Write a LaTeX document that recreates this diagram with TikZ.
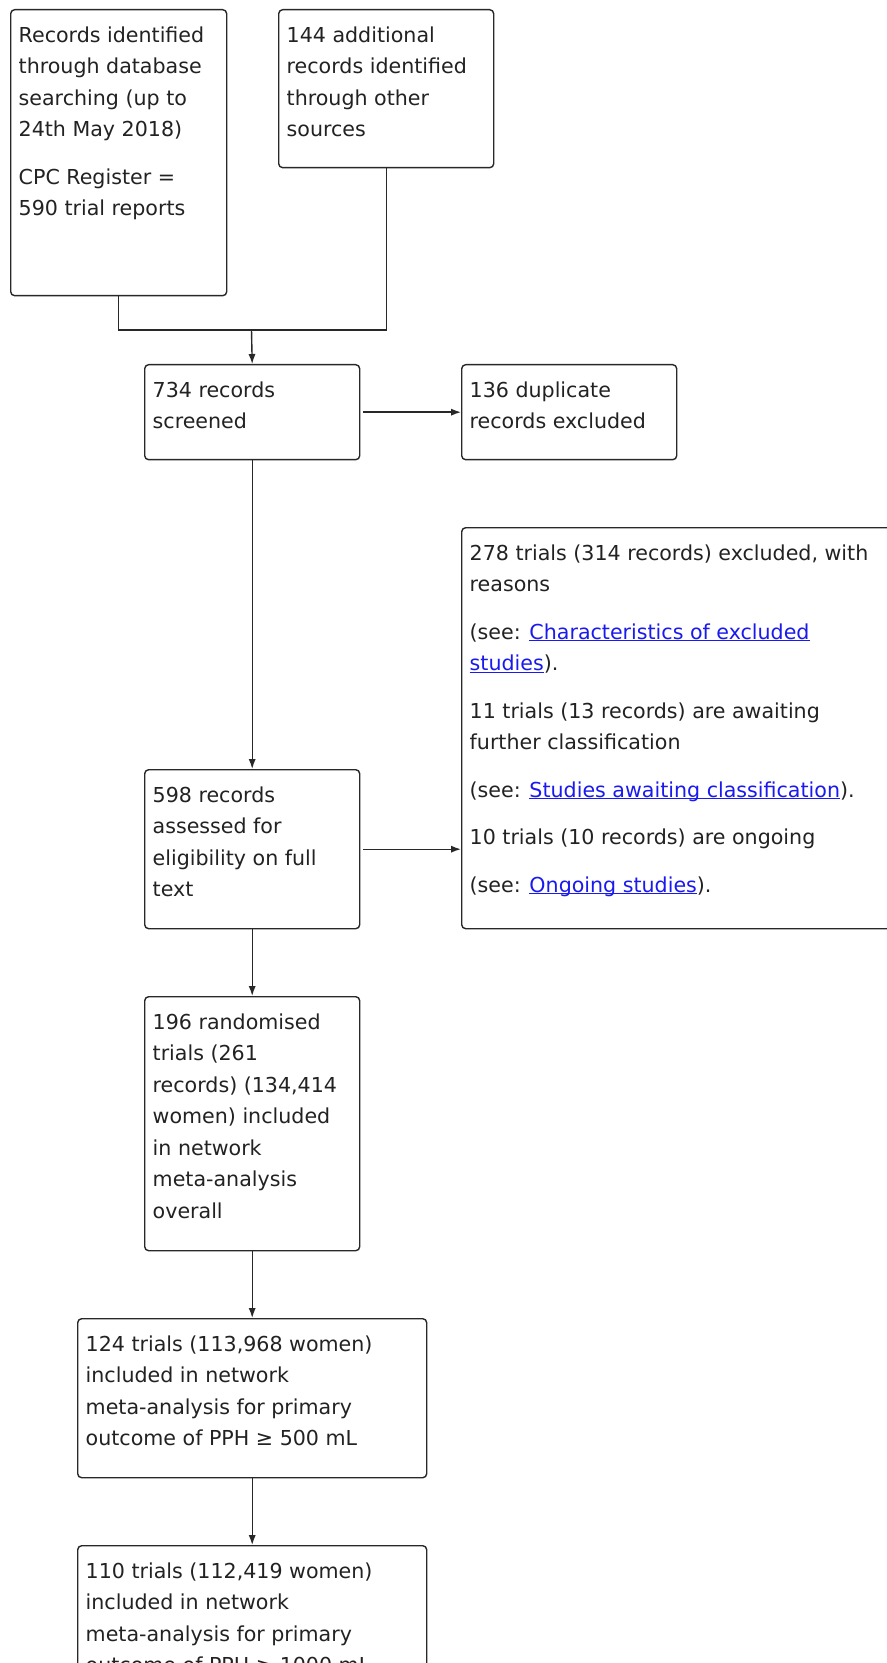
\documentclass[tikz,border=0pt]{standalone}
\usepackage{fontspec}
\setmainfont{DejaVu Sans}
\usetikzlibrary{arrows.meta}
\definecolor{linegray}{RGB}{40,40,40}
\definecolor{textgray}{RGB}{34,34,34}
\definecolor{linkblue}{RGB}{26,26,238}
\newsavebox{\linkbox}
\newcommand{\boxtext}[3]{%
  \begin{minipage}[t][\dimexpr #2pt/2-10.5pt\relax][t]{\dimexpr #1pt/2-8pt\relax}%
  \setlength{\parskip}{8pt}\raggedright\strut #3%
  \end{minipage}}
\newcommand{\reflink}[1]{\leavevmode
  \sbox{\linkbox}{\color{linkblue}#1}%
  {\color{linkblue}\rlap{\rule[-1pt]{\wd\linkbox}{0.45pt}}}\usebox{\linkbox}}
\tikzset{
  flowbox/.style={draw=linegray, line width=0.7pt, rounded corners=2pt, fill=white,
    anchor=north west, inner xsep=4pt, inner ysep=5.25pt, text=textgray,
    font=\fontsize{10.3}{15.75}\selectfont},
  flowline/.style={draw=linegray, line width=0.7pt},
  flowarrow/.style={flowline, -{Latex[length=5pt,width=3.6pt]}}
}
\begin{document}
\begin{tikzpicture}[x=0.5pt,y=-0.5pt]
    \useasboundingbox (0,0) rectangle (887,1663);
    \fill[white] (0,0) rectangle (887,1663);

    \node[flowbox] (dbsearch) at (10,9)
        {\boxtext{216}{286}{Records identified\\ through database\\ searching (up to\\ 24th May 2018)\par
         CPC Register =\\ 590 trial reports}};
    \node[flowbox] (other) at (278,9)
        {\boxtext{215}{158}{144 additional\\ records identified\\ through other\\ sources}};
    \node[flowbox] (screen) at (144,364)
        {\boxtext{215}{95}{734 records\\ screened}};
    \node[flowbox] (dupl) at (461,364)
        {\boxtext{215}{95}{136 duplicate\\ records excluded}};
    \node[flowbox] (excl) at (461,527)
        {\boxtext{440}{401}{278 trials (314 records) excluded, with\\ reasons\par
         (see: \reflink{Characteristics of excluded}\\ \reflink{studies}).\par
         11 trials (13 records) are awaiting\\ further classification\par
         (see: \reflink{Studies awaiting classification}).\par
         10 trials (10 records) are ongoing\par
         (see: \reflink{Ongoing studies}).}};
    \node[flowbox] (fulltext) at (144,769)
        {\boxtext{215}{159}{598 records\\ assessed for\\ eligibility on full\\ text}};
    \node[flowbox] (rct) at (144,996)
        {\boxtext{215}{254}{196 randomised\\ trials (261\\ records) (134,414\\ women) included\\ in network\\ meta-analysis\\ overall}};
    \node[flowbox] (pph500) at (77,1318)
        {\boxtext{349}{159}{124 trials (113,968 women)\\ included in network\\ meta-analysis for primary\\ outcome of PPH ≥ 500 mL}};
    \node[flowbox] (pph1000) at (77,1545)
        {\boxtext{349}{170}{110 trials (112,419 women)\\ included in network\\ meta-analysis for primary\\ outcome of PPH ≥ 1000 mL}};

    \coordinate (merge) at (251.5,330);
    \draw[flowline] (dbsearch.south) |- (merge) -| (other.south);
    \draw[flowarrow] (merge) -- (screen.north);
    \draw[flowarrow, shorten <=1.5pt] (screen.east) -- (dupl.west);
    \draw[flowarrow] (screen.south) -- (fulltext.north);
    \draw[flowarrow, shorten <=1.5pt] (fulltext.east) -- (fulltext.east -| excl.west);
    \draw[flowarrow] (fulltext.south) -- (rct.north);
    \draw[flowarrow] (rct.south) -- (pph500.north);
    \draw[flowarrow] (pph500.south) -- (pph1000.north);
\end{tikzpicture}
\end{document}
